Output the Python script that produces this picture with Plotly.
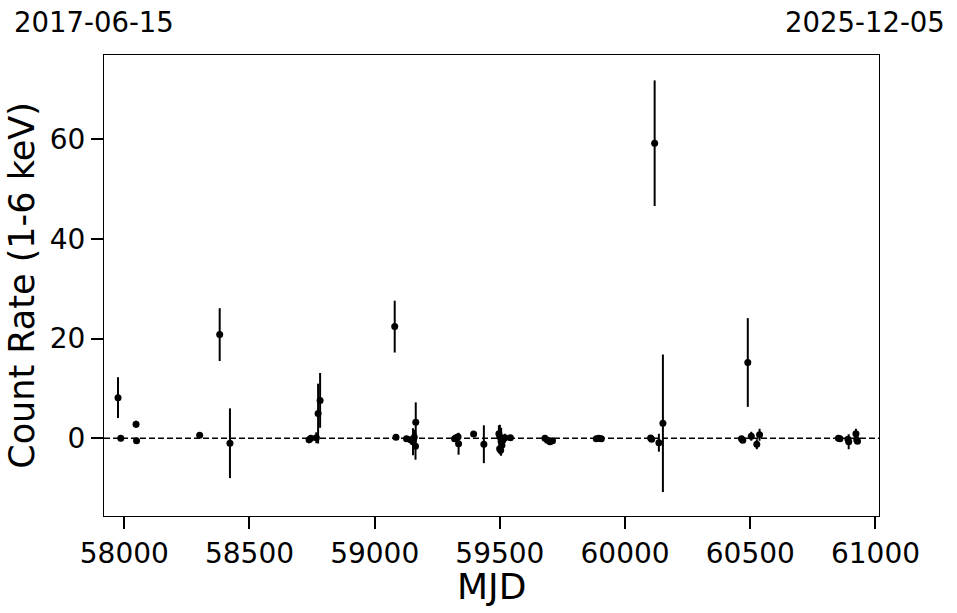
import plotly.graph_objects as go

mjd = [57975, 57986, 58047, 58049, 58301, 58381, 58422,
       58738, 58745, 58767, 58774, 58782,
       59080, 59085, 59127, 59143, 59153, 59158, 59163, 59164,
       59319, 59325, 59333, 59335, 59395, 59436,
       59496, 59500, 59499, 59503, 59505, 59508, 59512, 59520, 59542,
       59680, 59690, 59700, 59710,
       59885, 59895, 59905,
       60102, 60106, 60118, 60135, 60151,
       60465, 60470, 60490, 60504, 60526, 60537,
       60852, 60858, 60890, 60893, 60922, 60925, 60928]
rate = [8.15, 0.0, 2.8, -0.5, 0.6, 20.8, -1.0,
        -0.3, 0.0, 0.1, 4.95, 7.6,
        22.4, 0.2, -0.1, -0.3, -0.7, 0.2, -1.6, 3.2,
        -0.1, 0.1, 0.3, -1.1, 0.85, -1.2,
        0.9, 0.3, -2.1, -2.4, -0.7, -1.4, -0.4, 0.1, 0.1,
        0.0, -0.4, -0.7, -0.5,
        -0.1, 0.0, -0.1,
        0.05, -0.2, 59.2, -0.9, 3.0,
        -0.1, -0.4, 15.2, 0.4, -1.2, 0.7,
        0.0, -0.1, -0.2, -0.7, 0.9, -0.3, -0.6]
err = [4.1, 0.6, 0.7, 0.4, 0.4, 5.3, 7.0,
       0.7, 0.5, 1.1, 6.0, 5.5,
       5.2, 0.4, 0.5, 0.6, 2.7, 1.5, 2.7, 4.0,
       0.5, 0.5, 0.6, 2.2, 0.4, 3.8,
       1.7, 2.4, 1.0, 1.0, 2.8, 1.5, 1.0, 0.8, 0.5,
       0.4, 0.5, 0.4, 0.3,
       0.3, 0.3, 0.3,
       0.5, 0.4, 12.6, 1.8, 13.8,
       0.4, 0.5, 8.9, 0.9, 1.0, 1.2,
       0.3, 0.3, 0.4, 1.5, 1.0, 0.6, 0.5]

x_range = [57919, 61014]
y_range = [-15.6, 76.9]
start_label = "2017-06-15"
end_label = "2025-12-05"
x_title = "MJD"
y_title = "Count Rate (1-6 keV)"
x_ticks = [58000, 58500, 59000, 59500, 60000, 60500, 61000]
y_ticks = [0, 20, 40, 60]

FONT = "DejaVu Sans"

fig = go.Figure()
fig.add_trace(go.Scatter(
    x=mjd, y=rate, mode="markers",
    marker=dict(color="black", size=7),
    error_y=dict(type="data", array=err, visible=True, color="black",
                 thickness=2, width=0),
    showlegend=False,
))

fig.add_hline(y=0, line=dict(color="black", width=1.5, dash="6px,3px"))

axis_common = dict(
    showline=True, linecolor="black", linewidth=1, mirror=True,
    ticks="outside", ticklen=12, tickwidth=2, tickcolor="black",
    showgrid=False, zeroline=False,
    tickfont=dict(family=FONT, size=28, color="black"),
)

fig.update_layout(
    width=957, height=613,
    margin=dict(l=104, r=78, t=55, b=97),
    paper_bgcolor="white", plot_bgcolor="white",
    font=dict(family=FONT, color="black"),
    xaxis=dict(range=x_range, tickvals=x_ticks,
               ticktext=[str(v) for v in x_ticks],
               **axis_common),
    yaxis=dict(range=y_range, tickvals=y_ticks,
               ticktext=[str(v) for v in y_ticks],
               title=dict(text=y_title, font=dict(family=FONT, size=35), standoff=4),
               **axis_common),
    annotations=[
        dict(text=start_label, xref="paper", yref="paper",
             x=-0.119, y=1.072, xanchor="left", yanchor="middle",
             showarrow=False, font=dict(family=FONT, size=27.5, color="black")),
        dict(text=end_label, xref="paper", yref="paper",
             x=1.0875, y=1.072, xanchor="right", yanchor="middle",
             showarrow=False, font=dict(family=FONT, size=27.5, color="black")),
        dict(text=x_title, xref="paper", yref="paper",
             x=0.5, y=-0.153, xanchor="center", yanchor="middle",
             showarrow=False, font=dict(family=FONT, size=36, color="black")),
    ],
)

fig.write_html("out.html",
               config={"displayModeBar": False},
               post_script="document.body.style.margin='0';document.body.style.overflow='hidden';")
